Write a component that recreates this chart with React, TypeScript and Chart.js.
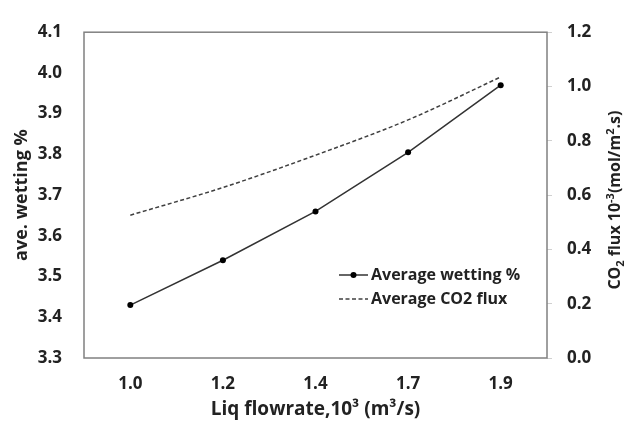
import React, { useEffect, useRef } from "react";
import { Chart, registerables } from "chart.js";

Chart.register(...registerables);

const categories = ["1.0", "1.2", "1.4", "1.7", "1.9"];
const wetting = [3.43, 3.54, 3.66, 3.805, 3.97];
const co2Flux = [0.526, 0.628, 0.747, 0.877, 1.035];
const leftTicks = [3.3, 3.4, 3.5, 3.6, 3.7, 3.8, 3.9, 4.0, 4.1];
const rightTicks = [0.0, 0.2, 0.4, 0.6, 0.8, 1.0, 1.2];
// right axis title pieces: [text, kind] where kind 0 = normal, -1 = subscript, 1 = superscript
const rightTitle: [string, number][] = [
  ["CO", 0],
  ["2", -1],
  [" flux 10", 0],
  ["-3", 1],
  ["(mol/m", 0],
  ["2", 1],
  [".s)", 0],
];

const FONT = "'Open Sans', 'DejaVu Sans', sans-serif";
const TEXT = "#222222";

const framePlugin = {
  id: "frameAndLegend",
  afterDatasetsDraw(chart: any) {
    const { ctx, chartArea } = chart;
    ctx.save();
    ctx.strokeStyle = "#808080";
    ctx.lineWidth = 1.5;
    ctx.strokeRect(chartArea.left, chartArea.top, chartArea.right - chartArea.left, chartArea.bottom - chartArea.top);

    // legend inside plot
    const ds = chart.data.datasets;
    const x0 = chartArea.right - 208;
    const x1 = chartArea.right - 179;
    const tx = chartArea.right - 176;
    const rows = [chartArea.bottom - 83, chartArea.bottom - 59];
    ds.forEach((d: any, i: number) => {
      const y = rows[i];
      ctx.beginPath();
      ctx.strokeStyle = d.borderColor;
      ctx.lineWidth = d.borderWidth;
      ctx.setLineDash(d.borderDash || []);
      ctx.moveTo(x0, y);
      ctx.lineTo(x1, y);
      ctx.stroke();
      ctx.setLineDash([]);
      if (d.pointRadius > 0) {
        ctx.beginPath();
        ctx.fillStyle = d.pointBackgroundColor;
        ctx.arc((x0 + x1) / 2, y, d.pointRadius, 0, Math.PI * 2);
        ctx.fill();
      }
      ctx.fillStyle = TEXT;
      ctx.font = `bold 16px ${FONT}`;
      ctx.textBaseline = "middle";
      ctx.textAlign = "left";
      ctx.fillText(d.label, tx, y);
    });

    // right axis title, reading bottom-to-top
    const big = `bold 16px ${FONT}`;
    const small = `bold 11px ${FONT}`;
    let total = 0;
    rightTitle.forEach(([t, k]) => {
      ctx.font = k === 0 ? big : small;
      total += ctx.measureText(t).width;
    });
    const cx = chart.width - 10;
    const cy = (chartArea.top + chartArea.bottom) / 2 + 5;
    ctx.translate(cx, cy);
    ctx.rotate(-Math.PI / 2);
    ctx.fillStyle = TEXT;
    ctx.textAlign = "left";
    ctx.textBaseline = "alphabetic";
    let px = -total / 2;
    const base = 6;
    rightTitle.forEach(([t, k]) => {
      ctx.font = k === 0 ? big : small;
      const dy = k === -1 ? 4 : k === 1 ? -6 : 0;
      ctx.fillText(t, px, base + dy);
      px += ctx.measureText(t).width;
    });
    ctx.restore();
  },
};

export default function App() {
  const ref = useRef<HTMLCanvasElement | null>(null);
  useEffect(() => {
    if (!ref.current) return;
    const chart = new Chart(ref.current, {
      type: "line",
      data: {
        labels: categories,
        datasets: [
          {
            label: "Average wetting %",
            data: wetting,
            yAxisID: "y",
            borderColor: "#333333",
            borderWidth: 1.5,
            pointRadius: 3,
            pointBackgroundColor: "#000000",
            pointBorderColor: "#000000",
            pointBorderWidth: 0,
            tension: 0,
            fill: false,
          },
          {
            label: "Average CO2 flux",
            data: co2Flux,
            yAxisID: "y1",
            borderColor: "#404040",
            borderWidth: 1.5,
            borderDash: [4, 2.5],
            pointRadius: 0,
            pointBackgroundColor: "#404040",
            tension: 0.4,
            cubicInterpolationMode: "monotone",
            fill: false,
          },
        ],
      },
      options: {
        responsive: false,
        animation: false,
        devicePixelRatio: 1,
        layout: { padding: { top: 16, left: 0, right: 0, bottom: 0 } },
        plugins: {
          legend: { display: false },
          tooltip: { enabled: false },
        },
        scales: {
          x: {
            type: "category",
            offset: true,
            grid: { display: false, drawTicks: false },
            border: { display: false },
            ticks: { color: TEXT, font: { family: FONT, size: 17, weight: "bold" }, padding: 16, maxRotation: 0 },
            title: {
              display: true,
              text: "Liq flowrate,10\u00B3 (m\u00B3/s)",
              color: TEXT,
              font: { family: FONT, size: 19, weight: "bold" },
              padding: { top: 0, bottom: 0 },
            },
            afterFit: (s: any) => { s.height = 63; },
          },
          y: {
            position: "left",
            min: 3.3,
            max: 4.1,
            grid: { display: false, drawTicks: false },
            border: { display: false },
            afterBuildTicks: (s: any) => { s.ticks = leftTicks.map((v) => ({ value: v })); },
            ticks: {
              color: TEXT,
              font: { family: FONT, size: 17, weight: "bold" },
              padding: 22,
              callback: (v: any) => Number(v).toFixed(1),
            },
            title: {
              display: true,
              text: "ave. wetting %",
              color: TEXT,
              font: { family: FONT, size: 18, weight: "bold" },
              padding: { top: 11, bottom: 0 },
            },
            afterFit: (s: any) => { s.width = 84; },
          },
          y1: {
            position: "right",
            min: 0,
            max: 1.2,
            grid: { display: true, drawOnChartArea: false, drawTicks: true, tickLength: 5, color: "#d0d0d0" },
            border: { display: false },
            afterBuildTicks: (s: any) => { s.ticks = rightTicks.map((v) => ({ value: v })); },
            ticks: {
              color: TEXT,
              font: { family: FONT, size: 17, weight: "bold" },
              padding: 15,
              callback: (v: any) => Number(v).toFixed(1),
            },
            title: { display: false },
            afterFit: (s: any) => { s.width = 77; },
          },
        },
      } as any,
      plugins: [framePlugin],
    });
    return () => chart.destroy();
  }, []);
  return (
    <div style={{ position: "fixed", left: 0, top: 0, width: 624, height: 421, background: "#fff" }}>
      <canvas ref={ref} width={624} height={421} style={{ display: "block" }} />
    </div>
  );
}
